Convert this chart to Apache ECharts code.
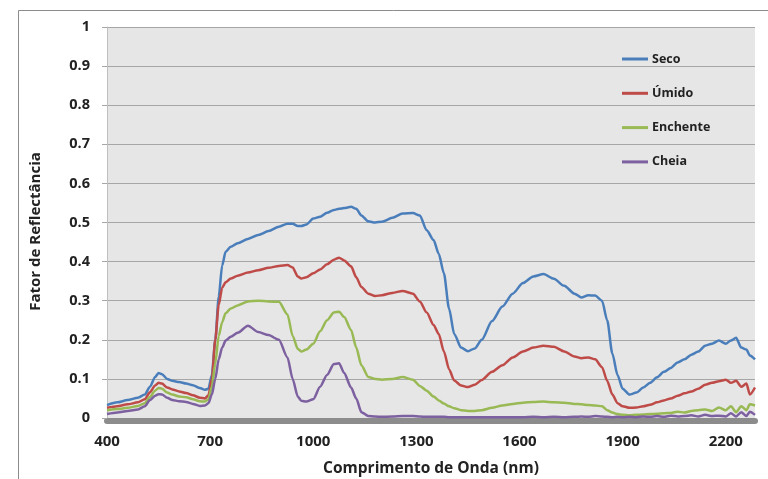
<!DOCTYPE html>
<html><head><meta charset="utf-8">
<script src="https://cdn.jsdelivr.net/npm/echarts@6/dist/echarts.min.js"></script>
<style>html,body{margin:0;padding:0;background:#fff}#c{width:768px;height:479px}</style>
</head><body><div id="c"></div>
<script>
const wavelengths = [400,430,460,490,510,525,540,550,560,575,590,610,630,650,670,685,695,705,715,725,735,745,760,780,810,840,870,900,925,940,955,965,980,1000,1020,1040,1060,1075,1090,1110,1125,1140,1160,1180,1200,1230,1260,1290,1310,1330,1350,1365,1380,1395,1410,1430,1450,1470,1490,1520,1550,1580,1610,1640,1670,1700,1730,1760,1780,1800,1820,1840,1855,1870,1885,1900,1920,1940,1960,1980,2000,2020,2040,2060,2080,2100,2120,2140,2160,2180,2200,2215,2230,2245,2260,2270,2285];
const seco = [0.033,0.04,0.046,0.052,0.06,0.08,0.105,0.115,0.112,0.1,0.095,0.092,0.088,0.084,0.077,0.072,0.075,0.11,0.2,0.31,0.39,0.425,0.438,0.447,0.458,0.468,0.478,0.489,0.497,0.497,0.491,0.491,0.495,0.51,0.515,0.525,0.532,0.535,0.537,0.54,0.535,0.518,0.503,0.5,0.502,0.512,0.523,0.524,0.518,0.48,0.455,0.42,0.37,0.28,0.215,0.18,0.171,0.178,0.2,0.248,0.285,0.318,0.345,0.362,0.368,0.356,0.338,0.318,0.308,0.314,0.313,0.3,0.25,0.165,0.11,0.075,0.06,0.065,0.078,0.09,0.104,0.118,0.128,0.142,0.15,0.162,0.17,0.185,0.19,0.198,0.19,0.198,0.205,0.18,0.175,0.16,0.15];
const umido = [0.026,0.03,0.035,0.04,0.048,0.066,0.083,0.09,0.088,0.078,0.073,0.068,0.064,0.058,0.052,0.05,0.058,0.1,0.2,0.29,0.333,0.347,0.357,0.364,0.372,0.378,0.384,0.389,0.391,0.385,0.362,0.357,0.36,0.37,0.38,0.393,0.405,0.41,0.403,0.388,0.36,0.335,0.318,0.312,0.314,0.32,0.325,0.318,0.298,0.27,0.238,0.215,0.17,0.125,0.096,0.083,0.079,0.085,0.097,0.118,0.135,0.155,0.17,0.18,0.185,0.182,0.17,0.157,0.153,0.155,0.15,0.13,0.095,0.06,0.038,0.03,0.026,0.027,0.03,0.034,0.04,0.045,0.05,0.057,0.063,0.068,0.075,0.085,0.09,0.094,0.098,0.09,0.095,0.08,0.088,0.06,0.078];
const enchente = [0.02,0.023,0.026,0.031,0.038,0.054,0.07,0.077,0.075,0.065,0.06,0.055,0.053,0.048,0.043,0.042,0.048,0.08,0.14,0.21,0.245,0.268,0.28,0.288,0.298,0.3,0.298,0.297,0.265,0.21,0.177,0.17,0.175,0.19,0.222,0.25,0.27,0.272,0.258,0.225,0.18,0.135,0.105,0.1,0.098,0.1,0.105,0.098,0.082,0.07,0.055,0.045,0.037,0.03,0.025,0.02,0.018,0.018,0.02,0.026,0.032,0.036,0.039,0.041,0.042,0.04,0.039,0.036,0.035,0.033,0.032,0.03,0.02,0.014,0.01,0.008,0.007,0.008,0.009,0.01,0.011,0.012,0.013,0.016,0.014,0.018,0.02,0.022,0.018,0.027,0.02,0.03,0.015,0.03,0.02,0.035,0.032];
const cheia = [0.01,0.014,0.018,0.022,0.03,0.046,0.057,0.061,0.06,0.052,0.046,0.043,0.041,0.036,0.031,0.032,0.038,0.06,0.1,0.15,0.18,0.198,0.208,0.218,0.236,0.22,0.212,0.2,0.155,0.1,0.055,0.044,0.042,0.048,0.08,0.11,0.138,0.14,0.115,0.078,0.05,0.015,0.005,0.004,0.003,0.004,0.005,0.005,0.004,0.003,0.003,0.003,0.003,0.002,0.002,0.002,0.002,0.002,0.002,0.002,0.002,0.002,0.002,0.003,0.002,0.003,0.002,0.003,0.004,0.003,0.005,0.004,0.003,0.002,0.003,0.002,0.003,0.002,0.004,0.003,0.005,0.003,0.006,0.004,0.005,0.007,0.004,0.008,0.005,0.006,0.004,0.012,0.004,0.015,0.005,0.016,0.008];
const seriesNames = ['Seco','Úmido','Enchente','Cheia'];
const seriesColors = ['#4a7ebb','#be4b48','#98b954','#7d60a0'];
const xTicks = {min:400, max:2285, interval:300};
const yTicks = {min:0, max:1, interval:0.1};

const font = 'Open Sans';
const chart = echarts.init(document.getElementById('c'), null, {renderer:'canvas'});
const allData = [seco, umido, enchente, cheia];
chart.setOption({
  animation:false,
  backgroundColor:'#fff',
  graphic:[{type:'rect', z:-10, shape:{x:18.5,y:10.5,width:800,height:500}, style:{fill:'#fff', stroke:'#8c8c8c', lineWidth:1}}],
  grid:{left:107,right:13,top:27,bottom:61, outerBoundsMode:'none', containLabel:false, show:true, backgroundColor:'#e6e6e6', borderWidth:0},
  legend:{
    orient:'vertical', left:617, top:46, itemGap:18.3, itemWidth:26, itemHeight:3, icon:'rect',
    textStyle:{fontFamily:font, fontWeight:'bold', fontSize:12.5, color:'#222', lineHeight:16, padding:[0,0,0,-1]},
    data:seriesNames
  },
  xAxis:{
    type:'value', min:xTicks.min, max:xTicks.max, interval:xTicks.interval,
    name:'Comprimento de Onda (nm)', nameLocation:'middle', nameGap:40,
    nameTextStyle:{fontFamily:font, fontWeight:'bold', fontSize:15.5, color:'#222'},
    offset:3,
    axisLine:{show:true, onZero:false, lineStyle:{color:'#8c8c8c', width:6}},
    axisTick:{show:false}, splitLine:{show:false},
    axisLabel:{fontFamily:font, fontWeight:'bold', fontSize:15, color:'#222', margin:13, showMaxLabel:false,
      formatter:v=>String(v)}
  },
  yAxis:{
    type:'value', min:yTicks.min, max:yTicks.max, interval:yTicks.interval,
    name:'Fator de Reflectância', nameLocation:'middle', nameGap:64,
    nameTextStyle:{fontFamily:font, fontWeight:'bold', fontSize:15, color:'#222', padding:[0,18,0,0]},
    axisLine:{show:true, lineStyle:{color:'#bfbfbf', width:1}},
    axisTick:{show:true, length:5, lineStyle:{color:'#a6a6a6'}},
    splitLine:{show:true, lineStyle:{color:'#a6a6a6', width:1.2}},
    axisLabel:{fontFamily:font, fontWeight:'bold', fontSize:14.5, color:'#222', margin:17,
      formatter:v=>String(Math.round(v*10)/10)}
  },
  series: seriesNames.map((n,i)=>({
    name:n, type:'line', showSymbol:false, symbol:'none', smooth:0.25, smoothMonotone:'x',
    color:seriesColors[i], lineStyle:{width:2.5, color:seriesColors[i]},
    data: wavelengths.map((w,j)=>[w, allData[i][j]])
  }))
});
</script></body></html>
